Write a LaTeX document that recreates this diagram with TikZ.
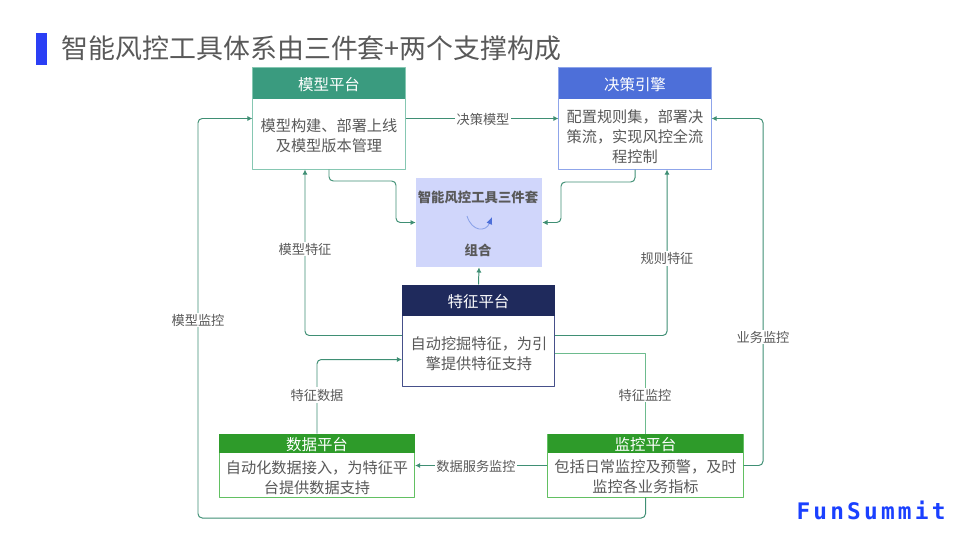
\documentclass[tikz,border=0pt]{standalone}
\usepackage{fontspec}
\usepackage{xcolor}
\usetikzlibrary{arrows.meta}
\setmainfont{Noto Sans CJK SC}
\newfontfamily\logofont[LetterSpace=14]{DejaVu Sans Mono}
\definecolor{ink}{HTML}{595959}
\definecolor{wire}{HTML}{3F8F74}
\definecolor{wiresoft}{HTML}{6DBB8E}
\definecolor{teal}{HTML}{3A9B7F}
\definecolor{tealsoft}{HTML}{86C7B2}
\definecolor{azure}{HTML}{4D6FD9}
\definecolor{azuresoft}{HTML}{8FA5EA}
\definecolor{navy}{HTML}{1F2A5C}
\definecolor{navysoft}{HTML}{46508A}
\definecolor{leaf}{HTML}{2E9B2A}
\definecolor{leafsoft}{HTML}{62C062}
\definecolor{lilac}{HTML}{D0D6FB}
\definecolor{brand}{HTML}{2B3FF5}
\definecolor{logoblue}{HTML}{1A40FF}

\begin{document}
\begin{tikzpicture}[x=0.025cm, y=-0.025cm, line join=round,
    outer/.style={draw, line width=0.7pt, fill=white, minimum width=#1, inner sep=0pt},
    bigbox/.style={outer=3.8cm, minimum height=2.525cm},
    widebox/.style={outer=4.875cm, minimum height=1.575cm},
    headbar/.style={anchor=north, text=white, inner sep=0pt, text height=12pt, text depth=1.6pt, font=\fontsize{11}{13}\selectfont},
    bodytxt/.style={align=center, text=ink, inner sep=0pt, font=\fontsize{10.8}{14.2}\selectfont},
    lbl/.style={fill=white, text=ink, inner sep=1pt, font=\fontsize{9.4}{11}\selectfont},
    ar/.style={-{Latex[length=1.3mm, width=1.3mm]}, line width=0.7pt, wire, rounded corners=3pt}]
  \useasboundingbox (0,0) rectangle (960,540);
  \node[fill=brand, minimum width=0.275cm, minimum height=0.8cm, inner sep=0pt] (bar) at (41.5,49) {};
  \node[anchor=west, text=ink, inner sep=0pt, font=\fontsize{19.15}{23}\selectfont] (title) at (61.5,48) {智能风控工具体系由三件套+两个支撑构成};
  % the five platforms
  \node[bigbox, draw=tealsoft]   (model)    at (329,118.5) {};
  \node[bigbox, draw=azuresoft]  (decision) at (635,118.5) {};
  \node[bigbox, draw=navysoft]   (feature)  at (478.5,335.5) {};
  \node[widebox, draw=leafsoft]  (data)     at (317,465.5) {};
  \node[widebox, draw=leafsoft]  (monitor)  at (645.5,465.5) {};
  \node[fill=lilac, minimum width=3.15cm, minimum height=2.225cm, inner sep=0pt] (kit) at (479,222.5) {};
  % wires
  \draw[ar] (model.east) -- (decision.west);
  \draw[ar] (model.south) |- (396,181) |- (kit.west);
  \draw[ar] (decision.south) |- (561,182) |- (kit.east);
  \draw[ar] (feature.north) -- (kit.south);
  \draw[ar] (feature.west) -| ([xshift=-0.6cm]model.south);
  \draw[ar] (feature.east) -| ([xshift=0.8cm]decision.south);
  \draw[ar] (data.north) |- ([yshift=-0.6cm]feature.west);
  \draw[line width=0.7pt, wiresoft] (monitor.north) |- ([yshift=-0.46cm]feature.east);
  \draw[ar] (monitor.west) -- (data.east);
  \draw[ar] (monitor.east) -| (763,118.5) -- (decision.east);
  \draw[ar] (monitor.south) |- (198,518) |- (model.west);
  % heads
  \node[headbar, fill=teal, minimum width=3.8cm, minimum height=0.775cm]  (modelhead)    at (model.north)    {模型平台};
  \node[headbar, fill=azure, minimum width=3.8cm, minimum height=0.775cm] (decisionhead) at (decision.north) {决策引擎};
  \node[headbar, fill=navy, minimum width=3.8cm, minimum height=0.775cm]  (featurehead)  at (feature.north)  {特征平台};
  \node[headbar, fill=leaf, minimum width=4.875cm, minimum height=0.475cm] (datahead)    at (data.north)     {数据平台};
  \node[headbar, fill=leaf, minimum width=4.875cm, minimum height=0.475cm] (monitorhead) at (monitor.north)  {监控平台};
  % body texts
  \node[bodytxt] (modeltxt)    at (329,135.5) {模型构建、部署上线\\及模型版本管理};
  \node[bodytxt] (decisiontxt) at (635,136.5) {配置规则集，部署决\\策流，实现风控全流\\程控制};
  \node[bodytxt] (featuretxt)  at (479,354) {自动挖掘特征，为引\\擎提供特征支持};
  \node[bodytxt] (datatxt)     at (317,477.5) {自动化数据接入，为特征平\\台提供数据支持};
  \node[bodytxt] (monitortxt)  at (645.5,477) {包括日常监控及预警，及时\\监控各业务指标};
  % middle block
  \node[text=ink, inner sep=0pt, font=\fontsize{9.5}{11}\selectfont\bfseries] (kittitle) at (478,197) {智能风控工具三件套};
  \node[text=ink, inner sep=0pt, font=\fontsize{9.5}{11}\selectfont\bfseries] (kitsub)   at (478,250) {组合};
  \draw[-{Latex[length=1.8mm, width=1.5mm, color=azure]}, line width=0.6pt, azuresoft!90!azure] (467,216) .. controls (472,232) and (486,232) .. (492,217);
  % labels
  \node[lbl] (l1) at (483,119) {决策模型};
  \node[lbl] (l2) at (305,249) {模型特征};
  \node[lbl] (l3) at (667,258) {规则特征};
  \node[lbl] (l4) at (198,320) {模型监控};
  \node[lbl] (l5) at (763,337) {业务监控};
  \node[lbl] (l6) at (317,395) {特征数据};
  \node[lbl] (l7) at (645,395) {特征监控};
  \node[lbl] (l8) at (476,466) {数据服务监控};
  \node[text=logoblue, inner sep=0pt, font=\logofont\fontsize{16.2}{18}\selectfont\bfseries] (logo) at (871,510) {FunSummit};
\end{tikzpicture}
\end{document}
